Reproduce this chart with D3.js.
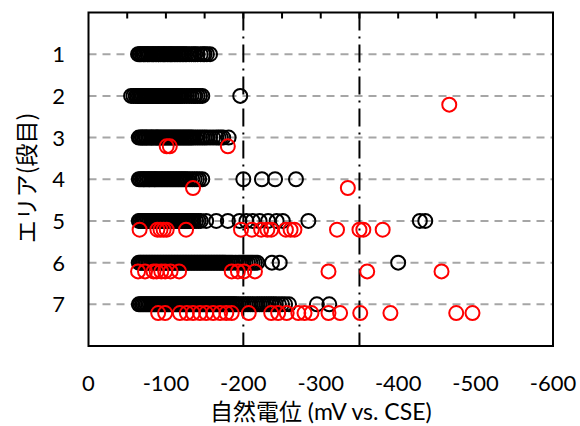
<!DOCTYPE html>
<html>
<head>
<meta charset="utf-8">
<script src="https://cdn.jsdelivr.net/npm/d3@7"></script>
<style>
  html, body { margin: 0; padding: 0; background: #fff; }
  svg { display: block; }
  text { font-family: Lato, "Noto Sans CJK JP", sans-serif; fill: #000; }
</style>
</head>
<body>
<svg id="chart" width="580" height="426"></svg>
<script>
// Rows (エリア / 段目) and x-axis tick values (mV vs. CSE)
const rows = [1, 2, 3, 4, 5, 6, 7];
const xTicks = [0, -100, -200, -300, -400, -500, -600];
const minorTicks = [-50, -100, -150, -200, -250, -300, -350, -400, -450, -500, -550];
const thresholds = [-200, -350];

// Half-cell potential readings per row — black series
const black1 = [-64,-66,-67,-69,-71,-72,-74,-76,-77,-79,-81,-83,-84,-86,-88,-90,-91,-93,-95,-97,-98,-100,-102,-104,-106,-107,-109,-111,-113,-115,-117,-119,-121,-123,-125,-127,-130,-133,-136,-138,-141,-145,-148,-150,-153,-157];
const black2 = [-55,-58,-61,-63,-65,-67,-68,-70,-72,-74,-75,-77,-79,-81,-82,-84,-86,-88,-90,-91,-93,-95,-97,-99,-101,-103,-105,-107,-109,-111,-113,-115,-117,-119,-121,-124,-127,-130,-133,-136,-138,-141,-144,-147,-196];
const black3 = [-65,-67,-69,-70,-72,-74,-75,-77,-79,-81,-82,-84,-86,-88,-89,-91,-93,-95,-97,-99,-101,-103,-105,-107,-109,-111,-113,-115,-117,-119,-121,-123,-125,-127,-129,-131,-133,-135,-138,-141,-144,-147,-150,-153,-157,-161,-165,-168,-171,-174,-181];
const black4 = [-65,-67,-69,-71,-72,-74,-76,-78,-79,-81,-83,-85,-86,-88,-90,-92,-94,-96,-98,-100,-102,-104,-106,-108,-110,-112,-114,-116,-118,-120,-122,-124,-126,-128,-131,-134,-137,-140,-143,-147,-200,-224,-241,-268];
const black5 = [-65,-67,-69,-71,-72,-74,-76,-78,-79,-81,-83,-85,-87,-88,-90,-92,-94,-96,-98,-100,-102,-104,-106,-108,-110,-112,-114,-116,-118,-120,-122,-124,-126,-128,-130,-132,-134,-136,-139,-142,-145,-152,-165,-180,-195,-204,-212,-221,-232,-243,-251,-284,-428,-435];
const black6 = [-65,-67,-69,-71,-73,-75,-77,-79,-81,-83,-85,-87,-89,-91,-93,-95,-97,-99,-101,-103,-105,-107,-109,-111,-113,-115,-117,-119,-121,-123,-125,-127,-129,-131,-133,-135,-137,-139,-141,-143,-145,-147,-149,-151,-153,-155,-157,-159,-161,-163,-165,-167,-169,-171,-173,-175,-177,-180,-183,-186,-190,-194,-197,-200,-203,-206,-209,-212,-215,-218,-237,-247,-400];
const black7 = [-65,-67,-69,-71,-73,-75,-77,-79,-81,-83,-85,-87,-89,-91,-93,-95,-97,-99,-101,-103,-105,-107,-109,-111,-113,-115,-117,-119,-121,-123,-125,-127,-129,-131,-133,-135,-137,-139,-141,-143,-145,-147,-149,-151,-153,-155,-157,-159,-161,-163,-165,-167,-169,-171,-173,-175,-177,-179,-181,-183,-185,-187,-189,-191,-194,-197,-200,-203,-206,-209,-212,-215,-218,-221,-224,-227,-230,-233,-236,-239,-242,-246,-250,-254,-259,-295,-311];

// Red series (drawn slightly below each row)
const red1 = [];
const red2 = [-466];
const red3 = [-101,-105,-180];
const red4 = [-135,-335];
const red5 = [-66,-89,-93,-97,-101,-126,-197,-211,-223,-231,-236,-255,-261,-266,-321,-350,-355,-380];
const red6 = [-64,-73,-84,-88,-94,-99,-106,-117,-185,-193,-201,-215,-310,-360,-456];
const red7 = [-90,-99,-118,-127,-135,-144,-152,-161,-170,-178,-185,-207,-236,-245,-256,-271,-279,-288,-310,-325,-351,-390,-475,-496];

const blackSets = [black1, black2, black3, black4, black5, black6, black7];
const redSets = [red1, red2, red3, red4, red5, red6, red7];

const svg = d3.select("#chart");
const plotL = 88.5, plotR = 553, plotT = 12.5, plotB = 346;

const x = d3.scaleLinear().domain([0, -600]).range([plotL, plotR]);
const y = d3.scaleLinear().domain([0, 8]).range([plotT, plotB]);
const redOffset = 0.21;

// Horizontal dashed grid lines at each row
svg.append("g").selectAll("line").data(rows).join("line")
  .attr("x1", plotL).attr("x2", plotR)
  .attr("y1", d => y(d)).attr("y2", d => y(d))
  .attr("stroke", "#a6a6a6").attr("stroke-width", 2)
  .attr("stroke-dasharray", "8,6");

// Dash-dot reference lines at -200 and -350 mV
svg.append("g").selectAll("line").data(thresholds).join("line")
  .attr("x1", d => x(d)).attr("x2", d => x(d))
  .attr("y1", plotT).attr("y2", plotB)
  .attr("stroke", "#000").attr("stroke-width", 2)
  .attr("stroke-dasharray", "18,6,2,6");

// Points
const ptsBlack = blackSets.flatMap((arr, i) => arr.map(v => ({ v, r: rows[i] })));
const ptsRed = redSets.flatMap((arr, i) => arr.map(v => ({ v, r: rows[i] + redOffset })));

svg.append("g").selectAll("circle").data(ptsBlack).join("circle")
  .attr("cx", d => x(d.v)).attr("cy", d => y(d.r)).attr("r", 7)
  .attr("fill", "none").attr("stroke", "#000").attr("stroke-width", 2);

svg.append("g").selectAll("circle").data(ptsRed).join("circle")
  .attr("cx", d => x(d.v)).attr("cy", d => y(d.r)).attr("r", 7)
  .attr("fill", "none").attr("stroke", "#ff0000").attr("stroke-width", 2);

// Frame
svg.append("rect")
  .attr("x", plotL).attr("y", plotT)
  .attr("width", plotR - plotL).attr("height", plotB - plotT)
  .attr("fill", "none").attr("stroke", "#000").attr("stroke-width", 2);

// Inward ticks along the top edge
svg.append("g").selectAll("line").data(minorTicks).join("line")
  .attr("x1", d => x(d)).attr("x2", d => x(d))
  .attr("y1", plotT).attr("y2", plotT + 6)
  .attr("stroke", "#000").attr("stroke-width", 2);

// X tick labels
svg.append("g").selectAll("text").data(xTicks).join("text")
  .attr("x", d => x(d)).attr("y", 391)
  .attr("text-anchor", "middle").attr("font-size", 22)
  .text(d => d === 0 ? "0" : "-" + Math.abs(d));

// Y tick labels
svg.append("g").selectAll("text").data(rows).join("text")
  .attr("x", 65).attr("y", d => y(d) + 8)
  .attr("text-anchor", "end").attr("font-size", 22)
  .text(d => d);

// Axis titles
svg.append("text")
  .attr("x", (plotL + plotR) / 2).attr("y", 420)
  .attr("text-anchor", "middle").attr("font-size", 23)
  .text("自然電位 (mV vs. CSE)");

svg.append("text")
  .attr("transform", "translate(35,178) rotate(-90)")
  .attr("text-anchor", "middle").attr("font-size", 23)
  .style("font-family", "'Noto Sans CJK JP', sans-serif")
  .text("エリア(段目)");
</script>
</body>
</html>
